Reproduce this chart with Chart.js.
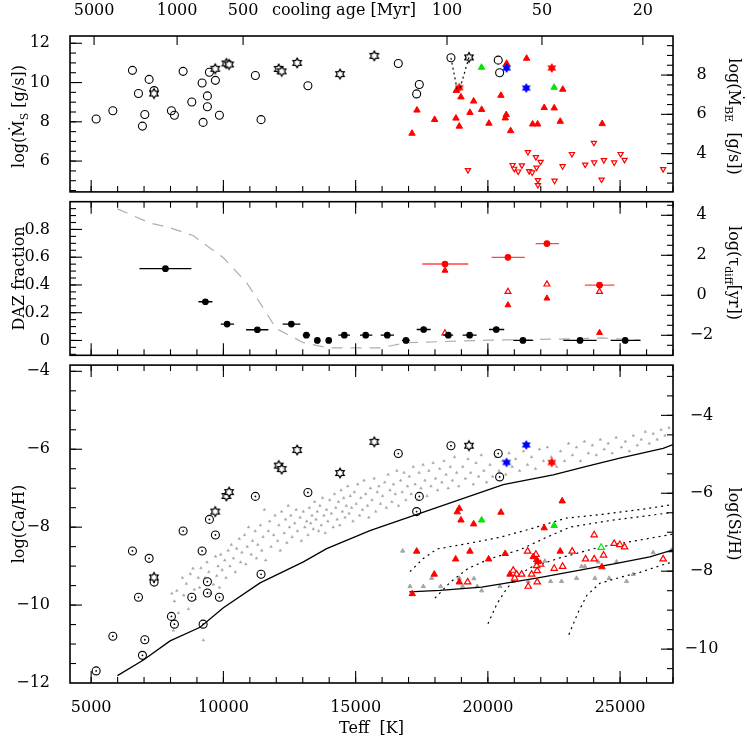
<!DOCTYPE html>
<html><head><meta charset="utf-8">
<script src="https://cdn.jsdelivr.net/npm/chart.js@4.4.1/dist/chart.umd.min.js"></script>
<style>
html,body{margin:0;padding:0;background:#fff;}
#wrap{position:relative;width:747px;height:747px;background:#fff;overflow:hidden;}
canvas{position:absolute;left:0;}
</style></head><body>
<div id="wrap">
<canvas id="c1" width="747" height="197" style="top:0px"></canvas>
<canvas id="c2" width="747" height="163" style="top:197px"></canvas>
<canvas id="c3" width="747" height="387" style="top:360px"></canvas>
</div>
<script>
// ================= DATA =================
// shared x axis (Teff [K])
const teffRange = [4200, 27000];
const teffTicks = [5000, 10000, 15000, 20000, 25000];
// top axis: cooling age
const ageLabels = ['5000', '1000', '500', '100', '50', '20'];
const ageTeff = [5110, 8250, 10745, 18455, 22045, 25860];
const ageAxisTitle = 'cooling age [Myr]';
const ageAxisTitleTeff = 14560;

// ---------- top panel: accretion rates ----------
const msRange = [4.43, 12.37];
const mbeRange = [2.05, 9.99];
const msTicks = [6, 8, 10, 12];
const mbeTicks = [4, 6, 8];

// objects shown as open circles (top: log Ms, bottom: log Ca/H)
const circTeff = [5189, 5820, 6561, 7192, 6789, 7029, 6939, 7381, 8035, 8148, 8477, 8805, 9195, 9233,
  9395, 9395, 9471, 9698, 9849, 11209, 11424, 13195, 16613, 17407, 17307, 18604, 20392, 20445];
const circMs = [8.14, 8.56, 10.62, 10.16, 9.44, 8.37, 7.78, 9.59, 8.56, 8.33, 10.57, 9.01, 9.98, 7.97,
  9.32, 8.77, 10.52, 10.11, 8.33, 10.36, 8.11, 9.84, 10.97, 9.90, 9.42, 11.26, 11.14, 10.50];
const circCa = [-11.69, -10.80, -8.61, -8.80, -9.80, -10.89, -11.29, -9.41, -10.29, -10.49, -8.10, -9.80, -8.61, -10.49,
  -9.40, -9.69, -7.80, -8.20, -9.80, -7.21, -9.21, -7.11, -6.11, -7.21, -7.60, -5.91, -6.11, -6.71];

// objects shown as open stars
const starTeff = [7375, 9690, 10115, 10215, 12093, 12206, 12790, 14410, 15706, 19285];
const starMs = [9.44, 10.70, 10.97, 10.92, 10.69, 10.57, 11.00, 10.43, 11.36, 11.28];
const starCa = [-9.29, -7.60, -7.20, -7.10, -6.42, -6.51, -6.02, -6.61, -5.81, -5.91];

// blue / red filled stars
const blueStarTeff = [20709, 21452];
const blueStarMs = [10.74, 9.72];
const blueStarCa = [-6.34, -5.89];
const redStarTopTeff = [18919, 22417];
const redStarTopMs = [9.74, 10.74];
const redStarBotTeff = [22417];
const redStarBotCa = [-6.34];

// dotted links between two measurements of the same star
const linkATeff = [18604, 18843];
const linkAMs = [11.26, 9.62];
const linkBTeff = [19285, 18944];
const linkBMs = [11.28, 9.70];

// red filled triangles (log M_BE)
const redTriTopTeff = [21465, 22832, 18805, 18982, 17319, 17987, 18793, 18919, 19462, 19323, 19765, 20040,
  20494, 20694, 20657, 20860, 17131, 21692, 21881, 22131, 22509, 22736, 24323, 20709];
const redTriTopMbe = [8.85, 7.27, 7.21, 6.88, 6.21, 5.73, 5.80, 5.39, 6.67, 6.09, 6.24, 5.54,
  6.96, 5.98, 5.81, 5.16, 5.03, 5.50, 5.50, 6.34, 6.32, 5.64, 5.52, 8.59];
// green filled triangles
const greenTriTopTeff = [19760, 22505];
const greenTriTopMbe = [8.39, 7.37];
// red open inverted triangles (upper limits)
const limTopTeff = [19247, 21515, 21817, 21994, 20935, 20995, 21147, 21287, 21563, 21676, 21842, 21892, 21892,
  22522, 22825, 23177, 23680, 24009, 24020, 24386, 24299, 24776, 25018, 25169, 26628];
const limTopMbe = [3.16, 4.08, 3.82, 3.58, 3.42, 3.23, 3.09, 3.40, 3.11, 3.04, 3.29, 2.65, 2.40,
  2.62, 3.36, 3.98, 3.44, 4.55, 3.55, 3.67, 2.68, 3.55, 3.98, 3.68, 3.21];

// ---------- middle panel: DAZ fraction ----------
const dazRange = [-0.107, 1.0];
const tauRange = [-3.0, 4.68];
const dazTicks = [0, 0.2, 0.4, 0.6, 0.8];
const tauTicks = [-2, 0, 2, 4];
const dazTeff = [7809, 9320, 10140, 11285, 12569, 13137, 13552, 13982, 14572, 15381, 16197, 16904, 17573,
  18504, 19310, 20317, 21326, 23484, 25192];
const dazFrac = [0.517, 0.279, 0.118, 0.077, 0.118, 0.038, 0.0, 0.0, 0.038, 0.038, 0.038, 0.0, 0.079,
  0.038, 0.038, 0.079, 0.0, 0.0, 0.0];
const dazLo = [6825, 9055, 9901, 10858, 12243, 13000, 13450, 13880, 14346, 15166, 15948, 16750, 17309,
  18313, 19046, 20041, 20959, 22852, 24640];
const dazHi = [8790, 9584, 10404, 11701, 12909, 13280, 13650, 14080, 14788, 15632, 16450, 17050, 17838,
  18691, 19575, 20619, 21715, 24111, 25774];
const dazRedTeff = [18378, 20759, 22233, 24222];
const dazRedFrac = [0.551, 0.599, 0.698, 0.399];
const dazRedLo = [17520, 20143, 21806, 23667];
const dazRedHi = [19258, 21401, 22686, 24788];
const tauFilled = [1.24, -0.49, -0.15, -1.87];
const tauOpen = [-1.89, 0.18, 0.55, 0.18];
const modelDazTeff = [5994, 7230, 7985, 8866, 10000, 10883, 11512, 11992, 13024, 13982, 15911, 16930, 19953, 23100, 24360, 25748];
const modelDaz = [0.948, 0.846, 0.812, 0.755, 0.596, 0.415, 0.233, 0.086, -0.016, -0.054, -0.054, -0.016, 0.002, 0.011, 0.018, 0.002];

// ---------- bottom panel: abundances ----------
const caRange = [-12, -3.84];
const siRange = [-10.87, -2.71];
const caTicks = [-12, -10, -8, -6, -4];
const siTicks = [-10, -8, -6, -4];

// grey cloud (log Ca/H of DA sample)
const cloudTeff = [
  8050, 8110, 8150, 8240, 8300, 8450, 8500, 8600, 8680, 8750, 8850, 8900, 8950,
  9050, 9100, 9150, 9244, 9300, 9380, 9450, 9500, 9620, 9700, 9750, 9800, 9850, 9900, 9950,
  10050, 10100, 10180, 10250, 10300, 10380, 10450, 10500, 10600, 10650, 10700, 10800, 10850, 10900, 10950,
  11050, 11100, 11200, 11250, 11300, 11400, 11450, 11500, 11550, 11600, 11700, 11750, 11800, 11900, 11950,
  12050, 12100, 12150, 12200, 12300, 12350, 12400, 12450, 12500, 12550, 12600, 12700, 12750, 12800, 12900, 12950,
  13020, 13080, 13150, 13200, 13250, 13300, 13350, 13400, 13450, 13500, 13550, 13600, 13650, 13700, 13750, 13800, 13850, 13900, 13950,
  14020, 14080, 14150, 14200, 14250, 14300, 14350, 14400, 14450, 14500, 14550, 14600, 14650, 14700, 14750, 14800, 14850, 14900, 14950,
  15020, 15080, 15150, 15200, 15260, 15320, 15380, 15450, 15500, 15560, 15620, 15700, 15760, 15820, 15880, 15940,
  16020, 16100, 16160, 16230, 16300, 16370, 16430, 16500, 16560, 16620, 16700, 16760, 16830, 16900, 16960,
  17030, 17100, 17180, 17250, 17330, 17400, 17470, 17550, 17620, 17700, 17770, 17850, 17930,
  18020, 18100, 18180, 18260, 18340, 18420, 18500, 18580, 18660, 18740, 18820, 18900,
  19050, 19150, 19250, 19350, 19450, 19550, 19650, 19750, 19850, 19950,
  20080, 20180, 20300, 20420, 20550, 20680, 20800, 20920,
  21050, 21200, 21350, 21500, 21650, 21800, 21950,
  22100, 22250, 22400, 22600, 22750, 22900,
  23050, 23200, 23350, 23500, 23650, 23800, 23950,
  24100, 24250, 24400, 24550, 24700, 24850,
  25050, 25200, 25350, 25500, 25650, 25800, 25950, 26100, 26250, 26400, 26550, 26700, 26850];
const cloudCa = [
  -9.70, -10.65, -9.90, -9.63, -10.20, -9.30, -9.75, -9.45, -10.10, -9.20, -9.06, -9.60, -9.85,
  -9.30, -9.55, -9.05, -10.90, -9.30, -8.90, -9.15, -9.70, -9.47, -8.75, -9.25, -9.00, -9.55, -8.70, -9.10,
  -8.85, -9.30, -8.60, -9.00, -8.45, -8.80, -9.15, -8.55, -8.30, -8.90, -8.65, -8.20, -8.95, -8.50, -8.00,
  -8.70, -8.35, -8.10, -8.80, -8.45, -7.95, -8.60, -8.25, -7.55, -8.85, -8.10, -7.85, -8.50, -8.20, -7.70,
  -8.35, -7.95, -8.60, -7.60, -8.15, -7.80, -8.40, -7.45, -8.00, -7.70, -8.25, -7.90, -7.55, -8.10, -7.75, -8.35,
  -7.60, -8.00, -7.85, -8.20, -7.50, -7.90, -7.70, -8.05, -7.35, -7.80, -7.60, -8.10, -7.45, -7.95, -7.25, -7.70, -8.15, -7.55, -7.85,
  -7.30, -7.65, -8.00, -7.15, -7.50, -7.80, -7.35, -7.95, -7.05, -7.60, -7.25, -7.75, -7.45, -6.95, -7.65, -7.20, -7.50, -7.85, -7.10,
  -7.40, -6.90, -7.70, -7.25, -7.55, -6.80, -7.15, -7.45, -7.75, -7.00, -7.30, -6.75, -7.60, -7.10, -6.95, -7.40,
  -7.20, -6.85, -7.50, -6.65, -7.05, -7.35, -6.90, -7.15, -6.55, -7.45, -6.80, -7.10, -6.60, -7.30, -6.95,
  -6.70, -7.15, -6.45, -6.90, -7.30, -6.60, -7.00, -6.40, -6.80, -7.20, -6.55, -6.95, -6.35,
  -6.75, -7.05, -6.50, -6.85, -6.30, -6.65, -7.00, -6.45, -6.80, -6.20, -6.60, -6.95,
  -6.45, -6.75, -6.25, -6.60, -6.90, -6.35, -6.70, -6.15, -6.55, -6.85,
  -6.40, -6.70, -6.20, -6.55, -6.30, -6.65, -6.10, -6.45,
  -6.25, -6.55, -6.05, -6.40, -6.20, -6.50, -6.00,
  -6.30, -5.95, -6.20, -6.45, -6.05, -6.30,
  -5.85, -6.15, -5.95, -6.30, -5.80, -6.10, -5.90,
  -6.15, -5.75, -6.00, -5.85, -6.10, -5.70,
  -5.95, -5.80, -6.05, -5.65, -5.90, -5.75, -5.55, -5.85, -5.60, -5.75, -5.50, -5.65, -5.45];

// grey triangles (log Si/H sample)
const siGrayTeff = [16779, 17055, 17558, 17875, 18215, 18918, 19046, 19473, 19598, 19765, 20456, 20959, 21526,
  22156, 22372, 22787, 23354, 23543, 23669, 24047, 24587, 24172, 24866, 25244, 25496, 26251, 26940];
const siGray = [-7.48, -8.39, -8.39, -8.18, -8.39, -8.18, -8.39, -8.19, -8.39, -8.50, -8.39, -8.26, -8.26,
  -7.74, -8.26, -8.26, -8.18, -7.88, -7.88, -8.18, -8.18, -7.76, -7.76, -8.26, -8.08, -7.52, -7.46];

// red filled triangles (log Si/H)
const redTriBotTeff = [22810, 18918, 18843, 20494, 18982, 19462, 22130, 17308, 19322, 18782, 20029, 20656,
  21715, 21843, 22735, 17973, 18918, 17142, 20834, 21892, 24311];
const redTriBotSi = [-6.20, -6.39, -6.48, -6.49, -6.69, -6.79, -6.89, -7.49, -7.49, -7.69, -7.69, -7.55,
  -7.63, -7.71, -7.49, -8.08, -8.28, -8.58, -8.08, -7.76, -7.89];
// red open triangles (log Si/H)
const redOpenBotTeff = [24020, 24775, 24991, 25169, 21503, 23188, 24375, 21817, 23695, 24020, 26627, 21994,
  21843, 22826, 22508, 21866, 20959, 21087, 21276, 21654, 21012, 19235, 21866, 21526];
const redOpenBotSi = [-7.07, -7.29, -7.32, -7.38, -7.49, -7.49, -7.59, -7.57, -7.69, -7.69, -7.69, -7.82,
  -7.86, -7.88, -7.93, -7.99, -7.98, -8.08, -8.08, -8.08, -8.18, -8.28, -8.28, -8.39];
const greenTriBotTeff = [19764, 22508];
const greenTriBotSi = [-6.69, -6.83];
const greenOpenBotTeff = [24284];
const greenOpenBotSi = [-7.39];

// model curves
const caModelTeff = [5994, 6976, 7985, 9119, 10000, 11387, 13024, 13906, 15540, 18060, 20580, 22470, 23730, 24990, 26628, 27000];
const caModel = [-11.81, -11.41, -10.92, -10.57, -10.07, -9.43, -8.89, -8.55, -8.09, -7.50, -6.91, -6.66, -6.44, -6.23, -5.98, -5.88];
const siModelTeff = [17028, 18189, 19764, 21843, 24866, 26125, 27000];
const siModel = [-8.53, -8.49, -8.41, -8.18, -7.80, -7.63, -7.45];
const dot1Teff = [17055, 17546, 18075, 19322, 20456, 21590, 22157, 22950, 24348, 25747, 26994];
const dot1Si = [-8.01, -7.68, -7.43, -7.28, -7.13, -6.92, -6.80, -6.64, -6.54, -6.42, -6.29];
const dot2Teff = [18000, 18567, 19247, 20078, 21212, 22157, 23101, 24613, 26994];
const dot2Si = [-8.69, -8.29, -7.93, -7.68, -7.45, -7.15, -6.87, -6.70, -6.49];
const dot3Teff = [20002, 20342, 20720, 21098, 21590, 22723, 24235, 25747, 26994];
const dot3Si = [-9.35, -8.84, -8.44, -8.14, -7.91, -7.66, -7.38, -7.20, -7.05];
const dot4Teff = [23063, 23403, 23743, 24235, 24991, 25747, 26503, 26994];
const dot4Si = [-9.63, -9.07, -8.62, -8.31, -8.16, -8.03, -7.86, -7.76];

// ================= RENDERING =================
const FONT = "'DejaVu Serif', 'Liberation Serif', serif";
Chart.defaults.font.family = FONT;
Chart.defaults.font.size = 16;
Chart.defaults.color = '#000';
Chart.defaults.animation = false;

const RED = 'rgb(255,0,0)', RED_BAR = 'rgb(255,70,70)', GREEN = 'rgb(0,230,0)', BLUE = 'rgb(0,0,255)', GRAY = 'rgb(165,165,165)';

const pts = (T, V) => T.map((t, i) => ({x: t, y: V[i]}));
const bars = (V, lo, hi) => V.flatMap((v, i) => [{x: lo[i], y: v}, {x: hi[i], y: v}, {x: hi[i], y: null}]);
const fmt = v => (v < 0 ? '\u2212' + String(-v) : String(v));
const steps = (a, b, s) => { const r = []; for (let k = 0; a + k * s <= b + 1e-9; k++) r.push(+(a + k * s).toFixed(4)); return r; };

const mctx = document.createElement('canvas').getContext('2d');
mctx.font = '16px ' + FONT;
const rightPad = vals => 20.5 - Math.max(...vals.map(v => mctx.measureText(fmt(v)).width)) / 2;

function hexStar(fill, stroke, R) {
  const s = Math.ceil(2 * R + 4);
  const c = document.createElement('canvas'); c.width = c.height = s;
  const g = c.getContext('2d'); const cx = s / 2, cy = s / 2, r = R / Math.sqrt(3);
  g.beginPath();
  for (let k = 0; k < 12; k++) {
    const ang = -Math.PI / 2 + k * Math.PI / 6, rad = k % 2 === 0 ? R : r;
    const px = cx + rad * Math.cos(ang), py = cy + rad * Math.sin(ang);
    if (k) g.lineTo(px, py); else g.moveTo(px, py);
  }
  g.closePath();
  if (fill) { g.fillStyle = fill; g.fill(); }
  if (stroke) { g.strokeStyle = stroke; g.lineWidth = 1.2; g.stroke(); }
  return c;
}
const starOpen = hexStar('#fff', '#000', 4.9);
const starBlue = hexStar(BLUE, BLUE, 3.9);
const starRed = hexStar(RED, RED, 3.9);

function zeroPad(ax) { ax.paddingTop = 0; ax.paddingBottom = 0; ax.paddingLeft = 0; ax.paddingRight = 0; }

function sc(data, o) {
  return Object.assign({data, showLine: false, pointRadius: 3.5, pointHoverRadius: 3.5, borderWidth: 1.1}, o);
}
function ln(data, o) {
  return Object.assign({data, showLine: true, pointRadius: 0, pointHoverRadius: 0, fill: false, spanGaps: false,
    borderWidth: 1.2, tension: 0}, o);
}
const filledTri = (col, r) => ({pointStyle: 'triangle', backgroundColor: col, borderColor: col, pointRadius: r || 3.7, borderWidth: 1});
const openTri = (col, r) => ({pointStyle: 'triangle', backgroundColor: '#fff', borderColor: col, pointRadius: r || 3.7, borderWidth: 1.2});

function yScale(pos, range, ticks, width, pad, title) {
  const s = {
    type: 'linear', position: pos, min: range[0], max: range[1],
    grid: {display: false}, border: {display: false},
    ticks: {padding: pad, autoSkip: false, crossAlign: pos === 'right' ? 'center' : 'near', callback: v => fmt(v)},
    afterBuildTicks: ax => { ax.ticks = ticks.map(v => ({value: v})); },
    afterFit: ax => { ax.width = width; zeroPad(ax); }
  };
  if (title) s.title = title;
  return s;
}
const xHidden = () => ({type: 'linear', position: 'bottom', min: teffRange[0], max: teffRange[1], display: false,
  afterFit: ax => { ax.height = 0; zeroPad(ax); }});

const xMinor = steps(5000, 27000, 1000);

const framePlugin = {
  id: 'frame',
  afterDatasetsDraw(chart, args, o) {
    const {ctx, chartArea: a, scales} = chart;
    const xs = scales.x;
    ctx.save();
    ctx.strokeStyle = '#000'; ctx.lineWidth = 1.1;
    const seg = (x1, y1, x2, y2) => { ctx.beginPath(); ctx.moveTo(x1, y1); ctx.lineTo(x2, y2); ctx.stroke(); };
    const xt = (list, len, y, dir) => list.forEach(v => { const p = xs.getPixelForValue(v); seg(p, y, p, y + dir * len); });
    const yt = (s, list, len, x, dir) => list.filter(v => v > s.min && v < s.max)
      .forEach(v => { const p = s.getPixelForValue(v); seg(x, p, x + dir * len, p); });
    if (o.bottom) { xt(teffTicks, 12, a.bottom, -1); xt(xMinor, 6, a.bottom, -1); }
    if (o.top === 'age') { xt(ageTeff, 9, a.top, 1); }
    else if (o.top) { xt(teffTicks, 12, a.top, 1); xt(xMinor, 6, a.top, 1); }
    if (o.left) { const s = scales[o.left.id]; yt(s, o.left.major, 12, a.left, 1); yt(s, o.left.minor, 6, a.left, 1); }
    if (o.right) { const s = scales[o.right.id]; yt(s, o.right.major, 12, a.right, -1); yt(s, o.right.minor, 6, a.right, -1); }
    ctx.lineWidth = 1.6;
    ctx.strokeRect(a.left, a.top, a.right - a.left, a.bottom - a.top);
    ctx.restore();
  }
};

function drawRich(ctx, x, y, rot, segs) {
  ctx.save(); ctx.translate(x, y); ctx.rotate(rot);
  ctx.textBaseline = 'middle'; ctx.textAlign = 'left'; ctx.fillStyle = '#000';
  const f = s => (s.sub ? '11px ' : '16px ') + FONT;
  let w = 0;
  segs.forEach(s => { ctx.font = f(s); w += ctx.measureText(s.t).width; });
  let cx = -w / 2;
  segs.forEach(s => { ctx.font = f(s); ctx.fillText(s.t, cx, s.sub ? 5 : 0); cx += ctx.measureText(s.t).width; });
  ctx.restore();
}
const richPlugin = {
  id: 'rich',
  afterDraw(chart, args, o) { (o.items || []).forEach(it => drawRich(chart.ctx, it.x, it.y, it.rot, it.segs)); }
};

function opts(scales, frame, rich) {
  return {
    responsive: false, animation: false, events: [],
    layout: {padding: 0},
    plugins: {legend: {display: false}, tooltip: {enabled: false}, frame, rich: {items: rich || []}},
    scales
  };
}

// ---------- chart 1: top panel ----------
const topTicks = ageTeff.map((t, i) => ({t, s: ageLabels[i]})).concat([{t: ageAxisTitleTeff, s: ageAxisTitle}])
  .sort((a, b) => a.t - b.t);
new Chart(document.getElementById('c1'), {
  type: 'scatter',
  data: {datasets: [
    ln(pts(linkATeff, linkAMs), {borderColor: '#000', borderDash: [2, 3], yAxisID: 'yl'}),
    ln(pts(linkBTeff, linkBMs), {borderColor: '#000', borderDash: [2, 3], yAxisID: 'yl'}),
    sc(pts(blueStarTeff, blueStarMs), {pointStyle: starBlue, yAxisID: 'yl'}),
    sc(pts(redStarTopTeff, redStarTopMs), {pointStyle: starRed, yAxisID: 'yl'}),
    sc(pts(greenTriTopTeff, greenTriTopMbe), Object.assign(filledTri(GREEN), {yAxisID: 'yr'})),
    sc(pts(redTriTopTeff, redTriTopMbe), Object.assign(filledTri(RED), {yAxisID: 'yr'})),
    sc(pts(limTopTeff, limTopMbe), Object.assign(openTri(RED, 3.0), {pointRotation: 180, yAxisID: 'yr'})),
    sc(pts(starTeff, starMs), {pointStyle: starOpen, yAxisID: 'yl'}),
    sc(pts(circTeff, circMs), {pointStyle: 'circle', pointRadius: 4, backgroundColor: 'rgba(0,0,0,0)', borderColor: '#000', borderWidth: 1.1, yAxisID: 'yl'})
  ]},
  options: opts({
    x: xHidden(),
    xt: {type: 'linear', position: 'top', min: teffRange[0], max: teffRange[1],
      grid: {display: false}, border: {display: false},
      ticks: {padding: 8, autoSkip: false, maxRotation: 0, minRotation: 0, callback: (v, i) => topTicks[i].s},
      afterBuildTicks: ax => { ax.ticks = topTicks.map(o => ({value: o.t})); },
      afterFit: ax => { ax.height = 36; zeroPad(ax); }},
    yl: yScale('left', msRange, msTicks, 70, 12),
    yr: yScale('right', mbeRange, mbeTicks, 74, rightPad(mbeTicks))
  }, {
    bottom: true, top: 'age',
    left: {id: 'yl', major: msTicks, minor: steps(4.5, 12, 0.5)},
    right: {id: 'yr', major: mbeTicks, minor: steps(2.5, 9.5, 0.5)}
  }, [
    {x: 20, y: 116.5, rot: -Math.PI / 2, segs: [{t: 'log(\u1E40'}, {t: 'S', sub: true}, {t: ' [g/s])'}]},
    {x: 733, y: 116.5, rot: Math.PI / 2, segs: [{t: 'log(\u1E40'}, {t: 'BE', sub: true}, {t: '  [g/s])'}]}
  ]),
  plugins: [framePlugin, richPlugin]
});

// ---------- chart 2: middle panel ----------
new Chart(document.getElementById('c2'), {
  type: 'scatter',
  data: {datasets: [
    sc(pts(dazTeff, dazFrac), {pointStyle: 'circle', pointRadius: 2.8, backgroundColor: '#000', borderColor: '#000', yAxisID: 'yl'}),
    ln(bars(dazFrac, dazLo, dazHi), {borderColor: '#000', borderWidth: 1.3, yAxisID: 'yl'}),
    sc(pts(dazRedTeff, dazRedFrac), {pointStyle: 'circle', pointRadius: 2.8, backgroundColor: RED, borderColor: RED, yAxisID: 'yl'}),
    ln(bars(dazRedFrac, dazRedLo, dazRedHi), {borderColor: RED_BAR, borderWidth: 1.3, yAxisID: 'yl'}),
    sc(pts(dazRedTeff, tauFilled), Object.assign(filledTri(RED, 3.4), {yAxisID: 'yr'})),
    sc(pts(dazRedTeff, tauOpen), Object.assign(openTri(RED, 3.4), {yAxisID: 'yr'})),
    ln(pts(modelDazTeff, modelDaz), {borderColor: 'rgb(175,175,175)', borderDash: [11, 8], borderWidth: 1.2, yAxisID: 'yl'})
  ]},
  options: opts({
    x: xHidden(),
    yl: yScale('left', dazRange, dazTicks, 70, 12,
      {display: true, text: 'DAZ fraction', padding: {top: 10, bottom: 0}, font: {size: 16}}),
    yr: yScale('right', tauRange, tauTicks, 74, rightPad(tauTicks))
  }, {
    bottom: true, top: true,
    left: {id: 'yl', major: dazTicks, minor: steps(-0.1, 0.95, 0.05)},
    right: {id: 'yr', major: tauTicks, minor: steps(-2.5, 4.5, 0.5)}
  }, [
    {x: 733, y: 76, rot: Math.PI / 2, segs: [{t: 'log(\u03C4'}, {t: 'diff', sub: true}, {t: '[yr])'}]}
  ]),
  plugins: [framePlugin, richPlugin]
});

// ---------- chart 3: bottom panel ----------
new Chart(document.getElementById('c3'), {
  type: 'scatter',
  data: {datasets: [
    sc(pts(blueStarTeff, blueStarCa), {pointStyle: starBlue, yAxisID: 'yl'}),
    sc(pts(redStarBotTeff, redStarBotCa), {pointStyle: starRed, yAxisID: 'yl'}),
    sc(pts(starTeff, starCa), {pointStyle: starOpen, yAxisID: 'yl'}),
    sc(pts(circTeff, circCa), {pointStyle: 'circle', pointRadius: 0.9, backgroundColor: '#000', borderColor: '#000', borderWidth: 0, yAxisID: 'yl'}),
    sc(pts(circTeff, circCa), {pointStyle: 'circle', pointRadius: 4, backgroundColor: 'rgba(0,0,0,0)', borderColor: '#000', borderWidth: 1.1, yAxisID: 'yl'}),
    sc(pts(greenTriBotTeff, greenTriBotSi), Object.assign(filledTri(GREEN), {yAxisID: 'yr'})),
    sc(pts(greenOpenBotTeff, greenOpenBotSi), Object.assign(openTri(GREEN), {yAxisID: 'yr'})),
    sc(pts(redTriBotTeff, redTriBotSi), Object.assign(filledTri(RED), {yAxisID: 'yr'})),
    sc(pts(redOpenBotTeff, redOpenBotSi), Object.assign(openTri(RED), {yAxisID: 'yr'})),
    ln(pts(caModelTeff, caModel), {borderColor: '#000', borderWidth: 1.3, yAxisID: 'yl'}),
    ln(pts(siModelTeff, siModel), {borderColor: '#000', borderWidth: 1.3, yAxisID: 'yr'}),
    ln(pts(dot1Teff, dot1Si), {borderColor: '#000', borderDash: [2, 4], borderWidth: 1.2, yAxisID: 'yr'}),
    ln(pts(dot2Teff, dot2Si), {borderColor: '#000', borderDash: [2, 4], borderWidth: 1.2, yAxisID: 'yr'}),
    ln(pts(dot3Teff, dot3Si), {borderColor: '#000', borderDash: [2, 4], borderWidth: 1.2, yAxisID: 'yr'}),
    ln(pts(dot4Teff, dot4Si), {borderColor: '#000', borderDash: [2, 4], borderWidth: 1.2, yAxisID: 'yr'}),
    sc(pts(siGrayTeff, siGray), Object.assign(filledTri(GRAY, 2.4), {yAxisID: 'yr'})),
    sc(pts(cloudTeff, cloudCa), Object.assign(filledTri(GRAY, 1.5), {borderWidth: 0.5, yAxisID: 'yl'}))
  ]},
  options: opts({
    x: {type: 'linear', position: 'bottom', min: teffRange[0], max: teffRange[1],
      grid: {display: false}, border: {display: false},
      ticks: {padding: 7, autoSkip: false, maxRotation: 0, minRotation: 0, callback: v => String(v)},
      afterBuildTicks: ax => { ax.ticks = teffTicks.map(v => ({value: v})); },
      title: {display: true, text: 'Teff  [K]', padding: {top: 0, bottom: 9}, font: {size: 16}},
      afterFit: ax => { ax.height = 64; zeroPad(ax); }},
    yl: yScale('left', caRange, caTicks, 70, 12,
      {display: true, text: 'log(Ca/H)', padding: {top: 10, bottom: 0}, font: {size: 16}}),
    yr: yScale('right', siRange, siTicks, 74, rightPad(siTicks),
      {display: true, text: 'log(Si/H)', padding: {top: 4, bottom: 0}, font: {size: 16}})
  }, {
    bottom: true, top: true,
    left: {id: 'yl', major: caTicks, minor: steps(-11.5, -4, 0.5)},
    right: {id: 'yr', major: siTicks, minor: steps(-10.5, -3, 0.5)}
  }),
  plugins: [framePlugin, richPlugin]
});
</script>
</body></html>
